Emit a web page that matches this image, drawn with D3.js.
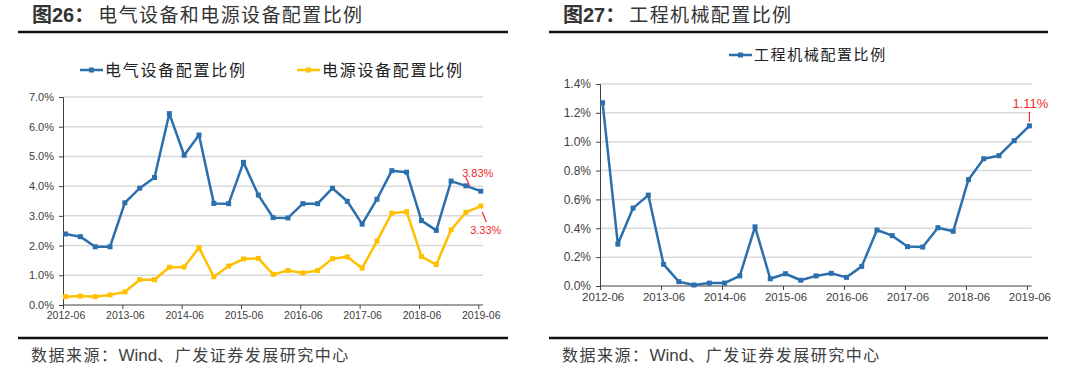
<!DOCTYPE html>
<html>
<head>
<meta charset="utf-8">
<script src="https://cdn.jsdelivr.net/npm/d3@7"></script>
<style>
  body { margin: 0; background: #fff; }
  svg text { font-family: "Liberation Sans", Arial, sans-serif; }
  .cjk { font-family: "Noto Sans CJK SC", sans-serif; }
</style>
</head>
<body>
<svg id="chart" width="1080" height="372"></svg>
<script>
// quarterly periods (x categories)
var quarters = ["2012-06","2012-09","2012-12","2013-03","2013-06","2013-09","2013-12","2014-03",
  "2014-06","2014-09","2014-12","2015-03","2015-06","2015-09","2015-12","2016-03",
  "2016-06","2016-09","2016-12","2017-03","2017-06","2017-09","2017-12","2018-03",
  "2018-06","2018-09","2018-12","2019-03","2019-06"];
var xLabels = ["2012-06","2013-06","2014-06","2015-06","2016-06","2017-06","2018-06","2019-06"];

// 电气设备配置比例 (%)
var elecEquip = [2.39,2.30,1.96,1.96,3.44,3.93,4.29,6.44,5.04,5.72,3.42,3.41,4.80,3.70,2.94,
  2.93,3.41,3.41,3.93,3.49,2.72,3.56,4.52,4.47,2.84,2.51,4.17,4.01,3.83];
// 电源设备配置比例 (%)
var powerEquip = [0.28,0.30,0.28,0.34,0.44,0.85,0.85,1.27,1.28,1.93,0.95,1.31,1.55,1.57,1.03,
  1.16,1.08,1.16,1.56,1.62,1.24,2.15,3.09,3.14,1.63,1.36,2.53,3.12,3.33];
// 工程机械配置比例 (%)
var machinery = [1.27,0.29,0.54,0.63,0.15,0.03,0.007,0.02,0.02,0.07,0.41,0.05,0.085,0.04,0.07,
  0.088,0.06,0.136,0.388,0.349,0.273,0.27,0.404,0.379,0.737,0.882,0.903,1.007,1.11];

var leftYTicks = [0,1,2,3,4,5,6,7];
var rightYTicks = [0,0.2,0.4,0.6,0.8,1.0,1.2,1.4];

var blue = "#2c6fad", gold = "#ffc000", red = "#ee2b2b", ink = "#333333";

var svg = d3.select("#chart");

// one panel: title, legend, axes, lines, note
function drawPanel(cfg) {
  var g = svg.append("g");

  // title
  var t = g.append("text").attr("x", cfg.left + 14).attr("y", 22)
    .attr("fill", ink).style("font-size", "20px");
  t.append("tspan").attr("class", "cjk").style("font-weight", "bold").text("图");
  t.append("tspan").style("font-weight", "bold").text(cfg.num);
  t.append("tspan").attr("class", "cjk").style("font-weight", "bold").text("：");
  t.append("tspan").attr("class", "cjk").attr("dx", 4).style("font-size", "19px")
    .style("letter-spacing", "1.4px").text(cfg.title);

  g.append("line").attr("x1", cfg.left).attr("x2", cfg.right)
    .attr("y1", 32).attr("y2", 32).attr("stroke", "#111").attr("stroke-width", 2.5);
  g.append("line").attr("x1", cfg.left).attr("x2", cfg.right)
    .attr("y1", 338).attr("y2", 338).attr("stroke", "#111").attr("stroke-width", 2.5);

  // source line
  var src = g.append("text").attr("x", cfg.left + 13).attr("y", 361)
    .attr("fill", "#404040").style("font-size", "16px");
  src.append("tspan").attr("class", "cjk").style("letter-spacing", "1.5px").text("数据来源：");
  src.append("tspan").style("font-size", "17px").text("Wind");
  src.append("tspan").attr("class", "cjk").style("letter-spacing", "1.5px").text("、广发证券发展研究中心");

  var x = d3.scaleLinear().domain([-0.17, 28.15]).range(cfg.xRange);
  var y = d3.scaleLinear().domain([0, cfg.yMax]).range(cfg.yRange);

  // gridlines
  g.append("g").selectAll("line").data(cfg.yTicks.slice(1)).join("line")
    .attr("x1", cfg.xRange[0]).attr("x2", cfg.xRange[1])
    .attr("y1", function(d){ return y(d); }).attr("y2", function(d){ return y(d); })
    .attr("stroke", "#d9d9d9").attr("stroke-width", 1.5);

  // y axis
  var ya = g.append("g").attr("transform", "translate(" + cfg.xRange[0] + ",0)")
    .call(d3.axisLeft(y).tickValues(cfg.yTicks).tickSize(4).tickPadding(5)
      .tickFormat(function(d){ return d.toFixed(1) + "%"; }));
  ya.selectAll("text").attr("fill", "#404040").style("font-size", cfg.yFont);
  ya.selectAll("line,path").attr("stroke", "#404040");

  // x axis
  var xa = g.append("g").attr("transform", "translate(0," + cfg.yRange[0] + ")")
    .call(d3.axisBottom(x).tickValues(xLabels.map(function(l){ return quarters.indexOf(l); }))
      .tickSize(4).tickPadding(3).tickSizeOuter(0)
      .tickFormat(function(i){ return quarters[i]; }));
  xa.selectAll(".tick line").attr("transform", "translate(-2.5,0)");
  xa.selectAll("text").attr("fill", "#404040").style("font-size", cfg.xFont);
  xa.selectAll("line,path").attr("stroke", "#404040");
  xa.select(".domain").attr("d", "M" + cfg.xRange[0] + ",0H" + cfg.xRange[1]);

  // series
  cfg.series.forEach(function(s) {
    var line = d3.line().x(function(d, i){ return x(i); }).y(function(d){ return y(d); });
    g.append("path").datum(s.values).attr("d", line)
      .attr("fill", "none").attr("stroke", s.color).attr("stroke-width", 2.5)
      .attr("stroke-linejoin", "round");
    g.append("g").selectAll("rect").data(s.values).join("rect")
      .attr("x", function(d, i){ return x(i) - 2.5; })
      .attr("y", function(d){ return y(d) - 2.5; })
      .attr("width", 5).attr("height", 5).attr("fill", s.color);

    // legend entry
    var lg = g.append("g").attr("transform", "translate(" + s.legendX + "," + cfg.legendY + ")");
    lg.append("line").attr("x1", 0).attr("x2", 23).attr("stroke", s.color).attr("stroke-width", 2.5);
    lg.append("rect").attr("x", 9).attr("y", -2.5).attr("width", 5).attr("height", 5).attr("fill", s.color);
    lg.append("text").attr("class", "cjk").attr("x", 25).attr("y", 0).attr("dy", "0.35em")
      .attr("fill", "#222").style("font-size", cfg.legendFont).style("letter-spacing", cfg.legendSpacing)
      .text(s.name);

    // last value note
    var n = s.values.length - 1, px = x(n), py = y(s.values[n]);
    g.append("line").attr("x1", px + s.note.lx1).attr("y1", py + s.note.ly1)
      .attr("x2", px + s.note.lx2).attr("y2", py + s.note.ly2)
      .attr("stroke", red).attr("stroke-width", 1.2);
    g.append("text").attr("x", px + s.note.tx).attr("y", py + s.note.ty)
      .attr("text-anchor", "middle").attr("fill", red).style("font-size", s.note.size)
      .text(s.values[n].toFixed(2) + "%");
  });
}

drawPanel({
  num: "26", title: "电气设备和电源设备配置比例",
  left: 18, right: 508,
  xRange: [63, 483], yRange: [305, 97], yMax: 7, yTicks: leftYTicks,
  yFont: "11px", xFont: "10.5px",
  legendY: 70, legendFont: "16px", legendSpacing: "1.7px",
  series: [
    { name: "电气设备配置比例", values: elecEquip, color: blue, legendX: 80,
      note: { lx1: -15, ly1: -14, lx2: -11, ly2: -5, tx: -3, ty: -14, size: "11px" } },
    { name: "电源设备配置比例", values: powerEquip, color: gold, legendX: 297,
      note: { lx1: 1.5, ly1: 6, lx2: 5.5, ly2: 16, tx: 5, ty: 28, size: "11px" } }
  ]
});

drawPanel({
  num: "27", title: "工程机械配置比例",
  left: 549, right: 1048,
  xRange: [600, 1031.7], yRange: [286, 84], yMax: 1.4, yTicks: rightYTicks,
  yFont: "12px", xFont: "11.5px",
  legendY: 55, legendFont: "15px", legendSpacing: "1.6px",
  series: [
    { name: "工程机械配置比例", values: machinery, color: blue, legendX: 729,
      note: { lx1: 0, ly1: -14, lx2: 0, ly2: -4, tx: 1, ty: -18, size: "13px" } }
  ]
});
</script>
</body>
</html>
